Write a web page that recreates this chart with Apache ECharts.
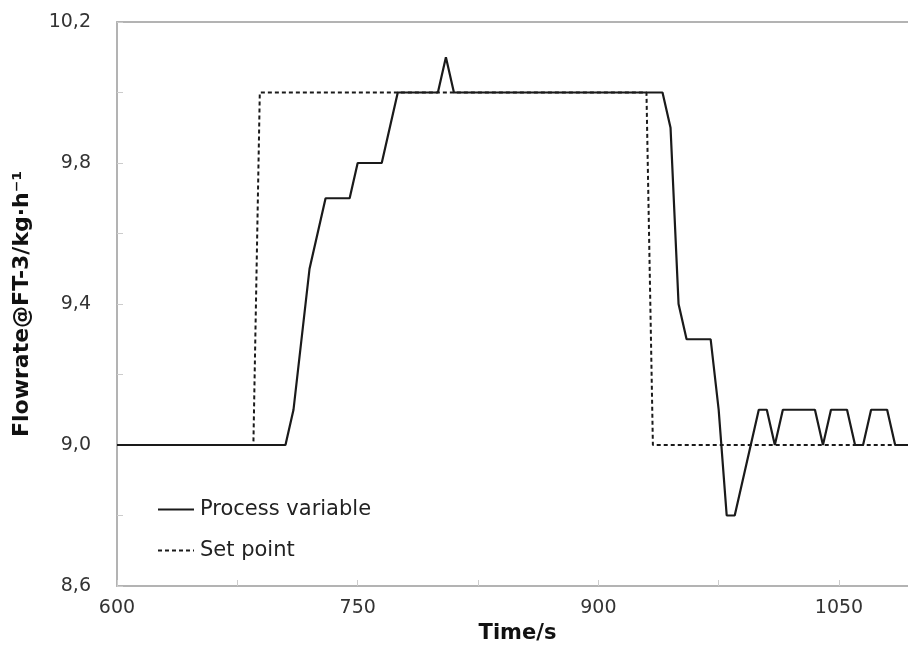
<!DOCTYPE html>
<html>
<head>
<meta charset="utf-8">
<script src="https://cdn.jsdelivr.net/npm/echarts@6/dist/echarts.min.js"></script>
<style>html,body{margin:0;padding:0;background:#fff}#c{width:908px;height:655px}</style>
</head>
<body>
<div id="c"></div>
<script>
// Process variable (time in s, flowrate)
const pvTime  = [600, 705, 710, 720, 730, 745, 750, 765, 775, 800, 805, 810, 940, 945, 950, 955, 970, 975, 980, 985, 1000, 1005, 1010, 1015, 1035, 1040, 1045, 1055, 1060, 1065, 1070, 1080, 1085, 1093];
const pvValue = [9.0, 9.0, 9.1, 9.5, 9.7, 9.7, 9.8, 9.8, 10.0, 10.0, 10.1, 10.0, 10.0, 9.9, 9.4, 9.3, 9.3, 9.1, 8.8, 8.8, 9.1, 9.1, 9.0, 9.1, 9.1, 9.0, 9.1, 9.1, 9.0, 9.0, 9.1, 9.1, 9.0, 9.0];
// Set point
const spTime  = [600, 685, 689, 930, 934, 1093];
const spValue = [9.0, 9.0, 10.0, 10.0, 9.0, 9.0];
// Axes
const xMin = 600, xMax = 1093, xTickStep = 75, xLabelStep = 150;
const yMin = 8.6, yMax = 10.2, yTickStep = 0.2;
const seriesNames = ['Process variable', 'Set point'];

const FONT = 'DejaVu Sans';
const axisGrey = '#b3b3b3';
const chart = echarts.init(document.getElementById('c'));
chart.setOption({
  animation: false,
  backgroundColor: '#fff',
  grid: { left: 117, right: 0, top: 22, bottom: 69 },
  legend: {
    orient: 'vertical', left: 152, top: 494, itemWidth: 36, itemHeight: 14, itemGap: 20,
    itemStyle: { opacity: 0, borderWidth: 0 },
    textStyle: { fontFamily: FONT, fontSize: 21, color: '#222', padding: [0, 0, 0, 1] },
    data: seriesNames
  },
  xAxis: [{
    type: 'value', min: xMin, max: xMax, interval: xTickStep,
    name: 'Time/s', nameLocation: 'middle', nameGap: 37,
    nameTextStyle: { fontFamily: FONT, fontWeight: 'bold', fontSize: 21, color: '#111', padding: [0, 0, 0, 10] },
    axisLine: { show: true, lineStyle: { color: axisGrey, width: 2 } },
    axisTick: { show: true, inside: true, length: 6, lineStyle: { color: '#ccc' } },
    splitLine: { show: false },
    axisLabel: {
      margin: 13, fontFamily: FONT, fontSize: 19, color: '#333', showMaxLabel: false,
      formatter: v => (Math.abs((v - xMin) % xLabelStep) < 1e-6 ? String(v) : '')
    }
  }, {
    type: 'value', min: xMin, max: xMax, position: 'top',
    axisLine: { show: true, onZero: false, lineStyle: { color: axisGrey, width: 2 } },
    axisTick: { show: false }, axisLabel: { show: false }, splitLine: { show: false }
  }],
  yAxis: {
    type: 'value', min: yMin, max: yMax, interval: yTickStep,
    name: 'Flowrate@FT-3/kg·h⁻¹', nameLocation: 'middle', nameGap: 84,
    nameTextStyle: { fontFamily: FONT, fontWeight: 'bold', fontSize: 22, color: '#111' },
    axisLine: { show: true, lineStyle: { color: axisGrey, width: 2 } },
    axisTick: { show: true, inside: true, length: 6, lineStyle: { color: '#ccc' } },
    splitLine: { show: false },
    axisLabel: {
      margin: 26, fontFamily: FONT, fontSize: 19, color: '#333',
      formatter: v => (Math.round((v - yMin) / yTickStep) % 2 === 0 ? v.toFixed(1).replace('.', ',') : '')
    }
  },
  series: [{
    name: seriesNames[0], type: 'line', symbol: 'none',
    data: pvTime.map((t, i) => [t, pvValue[i]]),
    lineStyle: { color: '#1a1a1a', width: 2.2 }, itemStyle: { color: '#1a1a1a' }, z: 3
  }, {
    name: seriesNames[1], type: 'line', symbol: 'none',
    data: spTime.map((t, i) => [t, spValue[i]]),
    lineStyle: { color: '#1a1a1a', width: 2, type: [4, 3] }, itemStyle: { color: '#1a1a1a' }, z: 2
  }]
});
</script>
</body>
</html>
